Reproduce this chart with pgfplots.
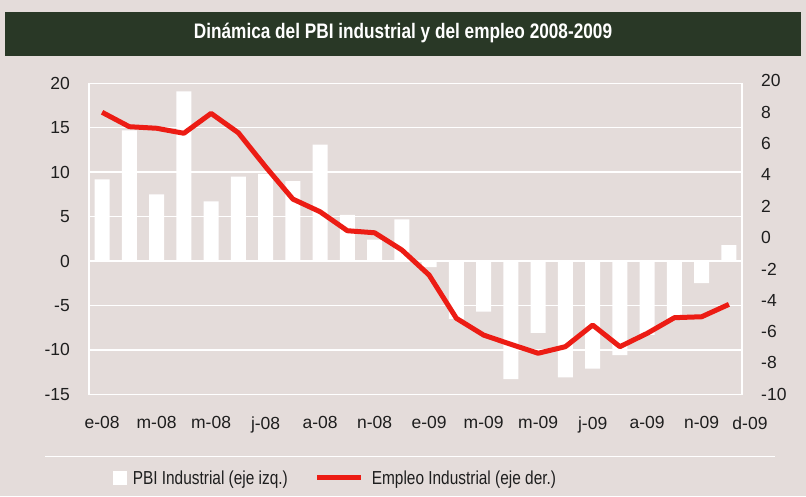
\documentclass[border=0pt]{standalone}
\usepackage{pgfplots}
\pgfplotsset{compat=1.18}
\usepackage{pgfplotstable}
\usepackage{fontspec}
\setmainfont{Liberation Sans}
\usepackage{graphicx}
\definecolor{bgc}{RGB}{228,220,218}
\definecolor{titlec}{RGB}{41,56,38}
\definecolor{redl}{RGB}{236,28,20}
\definecolor{txt}{RGB}{30,30,30}
\newcommand{\narrow}[1]{\scalebox{0.82}[1]{#1}}

\pgfplotstableread{
x pbi emp
0 9.2 8.00
1 14.7 7.08
2 7.5 6.98
3 19.1 6.66
4 6.7 7.93
5 9.5 6.69
6 9.8 4.52
7 9.0 2.46
8 13.1 1.65
9 5.2 0.44
10 2.4 0.31
11 4.7 -0.79
12 -0.7 -2.39
13 -6.5 -5.15
14 -5.7 -6.22
15 -13.3 -6.81
16 -8.1 -7.38
17 -13.1 -6.96
18 -12.1 -5.58
19 -10.6 -6.96
20 -8.3 -6.11
21 -6.5 -5.11
22 -2.5 -5.05
23 1.8 -4.26
}\chartdata

\pgfplotsset{
  common/.style={
    at={(89pt,101.7pt)}, anchor=south west, scale only axis,
    width=653pt, height=311pt,
    xmin=-0.48, xmax=23.48,
    major tick length=0pt,
    axis line style={white, line width=1.5pt},
    tick label style={font=\fontsize{17.5}{20}\selectfont, text=txt, inner sep=0pt},
    /pgf/number format/assume math mode=true,
  }
}

\begin{document}
\begin{tikzpicture}[x=1pt,y=1pt]
\useasboundingbox (0,0) rectangle (806,496);
\fill[bgc] (0,0) rectangle (806,496);
\fill[titlec] (5,440) rectangle (801,484);
\node[text=white, font=\fontsize{21}{24}\selectfont\bfseries] at (403,463) {\narrow{Dinámica del PBI industrial y del empleo 2008-2009}};
\draw[white, line width=1pt] (45,40) -- (775,40);

\begin{axis}[common,
  ymin=-15, ymax=20,
  ytick={-15,-10,...,20},
  ymajorgrids, grid style={white, line width=1.5pt},
  xtick={0,2,...,22},
  xticklabels={e-08,m-08,m-08,j-08,a-08,n-08,e-09,m-09,m-09,j-09,a-09,n-09},
  extra x ticks={23.48}, extra x tick labels={d-09},
  extra x tick style={xticklabel style={xshift=8pt}},
  xticklabel style={yshift=-22pt},
  yticklabel style={xshift=-19pt},
  ybar, bar width=15pt,
]
\addplot[fill=white, draw=none] table[x=x,y=pbi]{\chartdata};
\end{axis}

\begin{axis}[common,
  ymin=-10, ymax=9.85,
  axis y line*=right, axis x line=none,
  ytick={-10,-8,...,8},
  extra y ticks={9.85}, extra y tick labels={20},
  extra y tick style={yticklabel style={yshift=2.5pt}},
  yticklabel style={xshift=19pt, anchor=west},
  legend style={at={(axis description cs:0.037,-0.269)}, anchor=west,
    draw=none, fill=none, inner sep=0pt,
    font=\fontsize{18.8}{22}\selectfont, text=txt,
    /tikz/every even column/.append style={column sep=25pt}},
  legend columns=2,
  legend cell align=left,
]
\addlegendimage{legend image code/.code={\fill[white] (0pt,-6.5pt) rectangle (13pt,6.5pt); \path (17pt,0pt);}}
\addlegendentry{\narrow{PBI Industrial (eje izq.)}}
\addplot[redl, line width=5pt, line join=round,
  legend image code/.code={\draw[redl, line width=5pt] (0pt,0pt) -- (44pt,0pt); \path (50pt,0pt);}]
  table[x=x,y=emp]{\chartdata};
\addlegendentry{\narrow{Empleo Industrial (eje der.)}}
\end{axis}
\end{tikzpicture}
\end{document}
